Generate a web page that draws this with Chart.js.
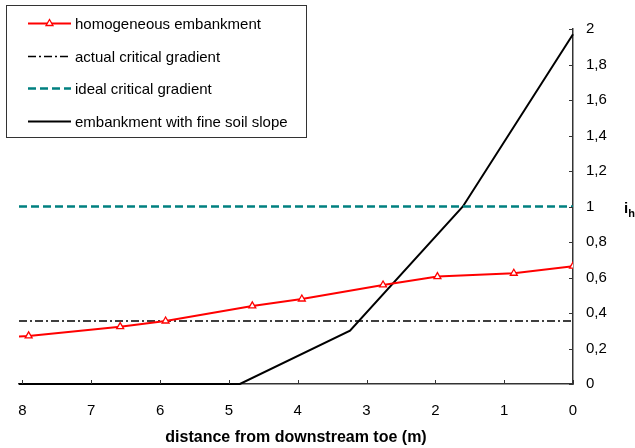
<!DOCTYPE html>
<html>
<head>
<meta charset="utf-8">
<script src="https://cdn.jsdelivr.net/npm/chart.js@4.4.1/dist/chart.umd.min.js"></script>
<style>
  html, body { margin: 0; padding: 0; background: #fff; }
  #wrap { width: 635px; height: 448px; }
</style>
</head>
<body>
<div id="wrap"><canvas id="c" width="635" height="448"></canvas></div>
<script>
// data
const xTicks = [0, 1, 2, 3, 4, 5, 6, 7, 8];
const yTicks = [0, 0.2, 0.4, 0.6, 0.8, 1, 1.2, 1.4, 1.6, 1.8, 2];

const homoX = [8.05, 7.91, 6.58, 5.92, 4.66, 3.94, 2.76, 1.97, 0.86, 0.0];
const homoY = [0.268, 0.271, 0.323, 0.355, 0.44, 0.479, 0.558, 0.605, 0.624, 0.664];
const homoMarked = [false, true, true, true, true, true, true, true, true, true];

const fineX = [8.05, 4.84, 3.24, 1.6, 0.0];
const fineY = [0, 0, 0.3, 1.0, 1.97];

const actualCrit = 0.355;
const idealCrit = 1.0;
const xMin = 0, xMax = 8.05;

const FONT = "'Liberation Sans', Arial, sans-serif";
const pts = (xs, ys) => xs.map((x, i) => ({ x, y: ys[i] }));

const datasets = [
  { label: 'homogeneous embankment', data: pts(homoX, homoY), borderColor: '#ff0000', borderWidth: 2,
    pointStyle: 'triangle', pointRadius: homoMarked.map(m => m ? 4 : 0), pointBackgroundColor: '#fff',
    pointBorderColor: '#ff0000', pointBorderWidth: 1.3, tension: 0 },
  { label: 'actual critical gradient', data: [{ x: xMax, y: actualCrit }, { x: xMin, y: actualCrit }],
    borderColor: '#000', borderWidth: 1.4, borderDash: [8, 3, 2, 3], pointRadius: 0 },
  { label: 'ideal critical gradient', data: [{ x: xMax, y: idealCrit }, { x: xMin, y: idealCrit }],
    borderColor: '#008080', borderWidth: 2.4, borderDash: [8, 4], pointRadius: 0 },
  { label: 'embankment with fine soil slope', data: pts(fineX, fineY), borderColor: '#000', borderWidth: 2,
    pointRadius: 0, clip: false },
];

const extras = {
  id: 'extras',
  afterDraw(chart) {
    const { ctx } = chart;
    const xs = chart.scales.x, ys = chart.scales.y;
    ctx.save();
    // inside tick marks
    ctx.strokeStyle = '#333';
    ctx.lineWidth = 1;
    for (const v of xTicks) {
      const px = Math.round(xs.getPixelForValue(v)) + 0.5;
      ctx.beginPath(); ctx.moveTo(px, xs.top); ctx.lineTo(px, xs.top - 4); ctx.stroke();
    }
    for (const v of yTicks) {
      const py = Math.round(ys.getPixelForValue(v)) + 0.5;
      ctx.beginPath(); ctx.moveTo(ys.left, py); ctx.lineTo(ys.left - 4, py); ctx.stroke();
    }
    // axis label i_h
    ctx.fillStyle = '#000';
    ctx.textBaseline = 'alphabetic';
    ctx.textAlign = 'left';
    const ly = ys.getPixelForValue(1);
    ctx.font = `bold 15px ${FONT}`;
    ctx.fillText('i', 624, ly + 6);
    const iw = ctx.measureText('i').width;
    ctx.font = `bold 11px ${FONT}`;
    ctx.fillText('h', 624 + iw, ly + 10);
    // legend box
    ctx.strokeStyle = '#333';
    ctx.lineWidth = 1;
    ctx.fillStyle = '#fff';
    ctx.fillRect(6.5, 5.5, 300, 132);
    ctx.strokeRect(6.5, 5.5, 300, 132);
    ctx.font = `15px ${FONT}`;
    ctx.textBaseline = 'middle';
    chart.data.datasets.forEach((ds, i) => {
      const y = Math.round(23 + i * 32.5) + 0.5;
      ctx.save();
      ctx.strokeStyle = ds.borderColor;
      ctx.lineWidth = ds.borderWidth;
      ctx.setLineDash(ds.borderDash || []);
      ctx.beginPath(); ctx.moveTo(28, y); ctx.lineTo(71, y); ctx.stroke();
      ctx.restore();
      if (ds.pointStyle === 'triangle') {
        ctx.save();
        ctx.fillStyle = '#fff'; ctx.strokeStyle = ds.pointBorderColor; ctx.lineWidth = 1.3;
        Chart.helpers.drawPoint(ctx, { pointStyle: 'triangle', radius: 4, borderWidth: 1.3 }, 49.5, y);
        ctx.restore();
      }
      ctx.fillStyle = '#000';
      ctx.fillText(ds.label, 75, y + 1);
    });
    ctx.restore();
  }
};

new Chart(document.getElementById('c'), {
  type: 'line',
  data: { datasets },
  options: {
    responsive: false,
    animation: false,
    events: [],
    layout: { padding: { top: 29, left: 19, right: 0, bottom: 0 } },
    plugins: { legend: { display: false }, tooltip: { enabled: false } },
    scales: {
      x: {
        type: 'linear', reverse: true, min: xMin, max: xMax, position: 'bottom',
        afterBuildTicks: s => { s.ticks = xTicks.map(v => ({ value: v })); },
        afterFit: s => { s.height = 64; },
        grid: { display: false, drawTicks: false },
        border: { display: true, color: '#333', width: 1.5 },
        ticks: { color: '#000', font: { family: FONT, size: 15 }, padding: 18, maxRotation: 0, autoSkip: false },
        title: { display: true, text: 'distance from downstream toe (m)', color: '#000',
          font: { family: FONT, size: 16, weight: 'bold' }, padding: { top: 4, bottom: 1 } },
      },
      y: {
        type: 'linear', position: 'right', min: 0, max: 2,
        afterBuildTicks: s => { s.ticks = yTicks.map(v => ({ value: v })); },
        afterFit: s => { s.width = 62; },
        grid: { display: false, drawTicks: false },
        border: { display: true, color: '#333', width: 1.5 },
        ticks: { color: '#000', font: { family: FONT, size: 15 }, padding: 13,
          callback: v => String(v).replace('.', ',') },
      },
    },
  },
  plugins: [extras],
});
</script>
</body>
</html>
